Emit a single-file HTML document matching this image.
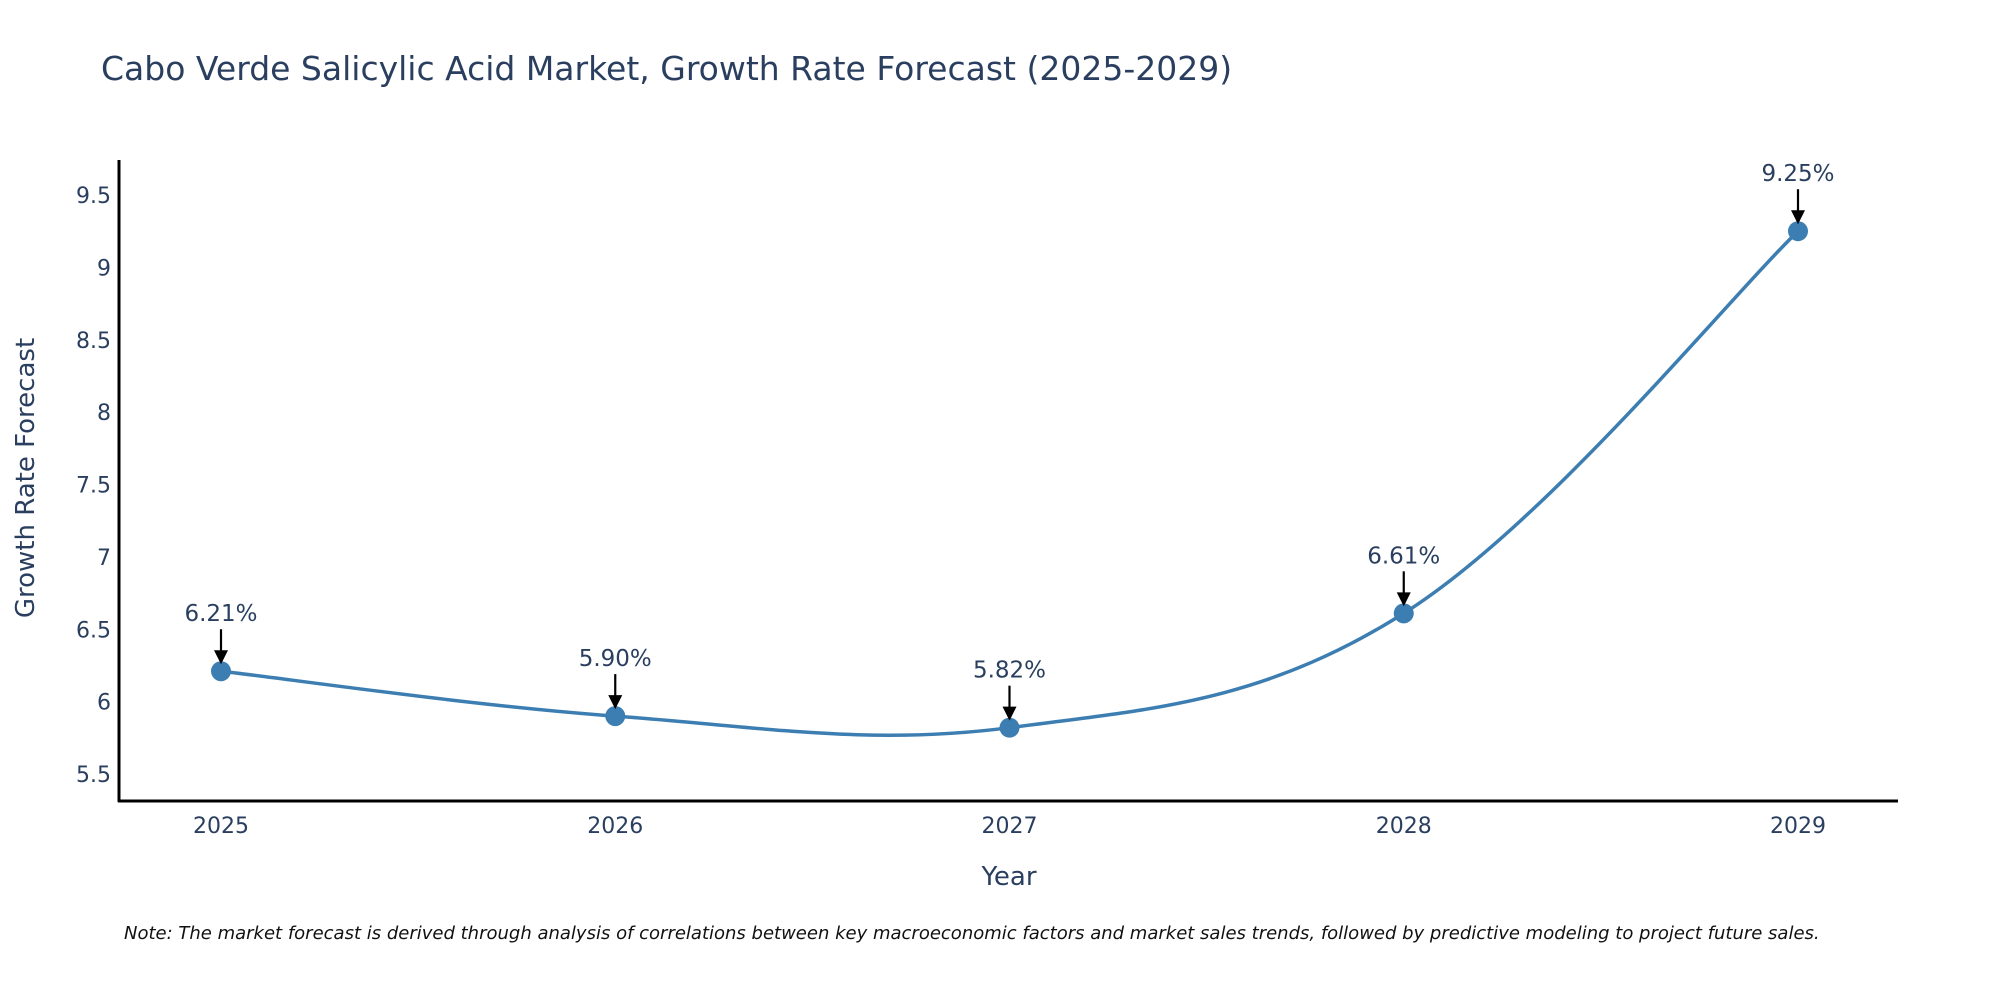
<!DOCTYPE html>
<html><head><meta charset="utf-8"><style>
html,body{margin:0;padding:0;background:#fff;}
svg{display:block;font-family:"DejaVu Sans","Liberation Sans",sans-serif;}
</style></head><body>
<svg id="chart" width="2000" height="1000" viewBox="0 0 2000 1000">
<text x="101" y="80" font-size="33" fill="#2a3f5f">Cabo Verde Salicylic Acid Market, Growth Rate Forecast (2025-2029)</text>
<g id="yticks"></g>
<g id="xticks"></g>
<line x1="119" y1="160" x2="119" y2="802" stroke="#000" stroke-width="3"/>
<line x1="118" y1="801" x2="1898" y2="801" stroke="#000" stroke-width="3"/>
<g id="series"></g>
<g id="annots"></g>
<text transform="translate(34,478) rotate(-90)" text-anchor="middle" font-size="26" fill="#2a3f5f">Growth Rate Forecast</text>
<text x="1009" y="885" text-anchor="middle" font-size="26" fill="#2a3f5f">Year</text>
<text x="124" y="939" font-size="18" font-style="italic" fill="#111" style="white-space:pre">Note: The market forecast is derived through analysis of correlations between key macroeconomic factors and market sales trends, followed by predictive modeling to project future sales.</text>
</svg>
<script>
const years = [2025, 2026, 2027, 2028, 2029];
const rates = [6.21, 5.90, 5.82, 6.61, 9.25];
const rateLabels = ["6.21%", "5.90%", "5.82%", "6.61%", "9.25%"];
const yTickValues = [5.5, 6, 6.5, 7, 7.5, 8, 8.5, 9, 9.5];
const yTickLabels = ["5.5", "6", "6.5", "7", "7.5", "8", "8.5", "9", "9.5"];

const NS = "http://www.w3.org/2000/svg";
function xPos(yr){ return 221 + (yr - 2025) * 394.25; }
function yPos(v){ return 774 - (v - 5.5) * 144.75; }
function mk(tag, attrs, parent){ const e = document.createElementNS(NS, tag); for (const k in attrs) e.setAttribute(k, attrs[k]); parent.appendChild(e); return e; }

const yt = document.getElementById('yticks');
yTickValues.forEach((v, i) => {
  const t = mk('text', {x: 111, y: yPos(v) + 8, 'text-anchor': 'end', 'font-size': 22, fill: '#2a3f5f'}, yt);
  
  
  t.textContent = yTickLabels[i];
});
const xt = document.getElementById('xticks');
years.forEach(yr => {
  const t = mk('text', {x: xPos(yr), y: 833, 'text-anchor': 'middle', 'font-size': 22, fill: '#2a3f5f'}, xt);
  
  
  t.textContent = String(yr);
});

const pts = years.map((yr, i) => [xPos(yr), yPos(rates[i])]);
let d = 'M' + pts[0][0] + ',' + pts[0][1];
const s = 0.18;
for (let i = 0; i < pts.length - 1; i++) {
  const p0 = pts[Math.max(0, i - 1)], p1 = pts[i], p2 = pts[i + 1], p3 = pts[Math.min(pts.length - 1, i + 2)];
  const c1 = [p1[0] + (p2[0] - p0[0]) * s, p1[1] + (p2[1] - p0[1]) * s];
  const c2 = [p2[0] - (p3[0] - p1[0]) * s, p2[1] - (p3[1] - p1[1]) * s];
  d += ' C' + c1[0] + ',' + c1[1] + ' ' + c2[0] + ',' + c2[1] + ' ' + p2[0] + ',' + p2[1];
}
const ser = document.getElementById('series');
const line = mk('path', {d: d, fill: 'none', stroke: '#3d7eb2', 'stroke-width': 3.5}, ser);


pts.forEach(p => {
  const c = mk('circle', {cx: p[0], cy: p[1], r: 10, fill: '#3d7eb2'}, ser);
  
  
});

const an = document.getElementById('annots');
pts.forEach((p, i) => {
  const l = mk('line', {x1: p[0], y1: p[1] - 42, x2: p[0], y2: p[1] - 20, stroke: '#000', 'stroke-width': 2.2}, an);
  
  
  const h = mk('polygon', {points: (p[0]-7)+','+(p[1]-21)+' '+(p[0]+7)+','+(p[1]-21)+' '+p[0]+','+(p[1]-7), fill: '#000'}, an);
  
  
  const t = mk('text', {x: p[0], y: p[1] - 50, 'text-anchor': 'middle', 'font-size': 23, fill: '#2a3f5f'}, an);
  
  
  t.textContent = rateLabels[i];
});
</script>
</body></html>
